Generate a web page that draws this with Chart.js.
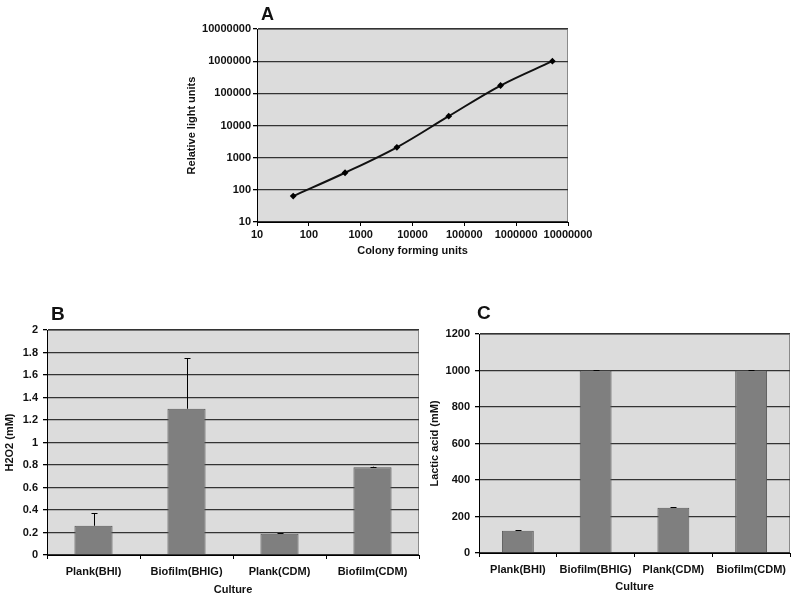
<!DOCTYPE html>
<html>
<head>
<meta charset="utf-8">
<script src="https://cdn.jsdelivr.net/npm/chart.js@4.4.0/dist/chart.umd.min.js"></script>
<style>
body { margin: 0; background: #fff; width: 800px; height: 600px; position: relative; overflow: hidden; font-family: 'Liberation Sans', Arial, sans-serif; }
canvas { position: absolute; }
.panel { position: absolute; font-weight: bold; line-height: 1; color: #111; }
</style>
</head>
<body>
<canvas id="chartA" width="420" height="270" style="left:180px;top:0"></canvas>
<canvas id="chartB" width="425" height="300" style="left:0;top:300px"></canvas>
<canvas id="chartC" width="380" height="300" style="left:420px;top:300px"></canvas>
<div class="panel" style="left:261px;top:5px;font-size:18px">A</div>
<div class="panel" style="left:51px;top:304px;font-size:19px">B</div>
<div class="panel" style="left:477px;top:303px;font-size:19px">C</div>
<script>
// panel A: luminescence vs colony forming units
var cfu = [50, 500, 5000, 50000, 500000, 5000000];
var rlu = [64, 340, 2100, 19500, 175000, 1000000];
var decades = [10, 100, 1000, 10000, 100000, 1000000, 10000000];
var decadeLabels = ['10', '100', '1000', '10000', '100000', '1000000', '10000000'];

// panels B and C
var cultures = ['Plank(BHI)', 'Biofilm(BHIG)', 'Plank(CDM)', 'Biofilm(CDM)'];
var h2o2 = [0.26, 1.30, 0.19, 0.78];
var h2o2Err = [0.11, 0.45, 0.005, 0.005];
var lactic = [122, 1000, 248, 1000];
var lacticErr = [3, 2, 2, 2];

var tickFont = { family: "'Liberation Sans', Arial, sans-serif", size: 11, weight: 'bold' };
var inkColor = '#111';

// grey plot background with a thin grey frame
var plotBg = {
    id: 'plotBg',
    beforeDraw: function (chart) {
        var a = chart.chartArea, ctx = chart.ctx;
        ctx.save();
        ctx.fillStyle = '#dcdcdc';
        ctx.fillRect(a.left, a.top, a.right - a.left, a.bottom - a.top);
        ctx.strokeStyle = '#8a8a8a';
        ctx.lineWidth = 1;
        ctx.strokeRect(a.left + 0.5, a.top + 0.5, a.right - a.left - 1, a.bottom - a.top);
        ctx.restore();
    }
};

// plus-only error bars, like excel
var errorBars = {
    id: 'errorBars',
    afterDatasetsDraw: function (chart, args, opts) {
        var meta = chart.getDatasetMeta(0);
        var values = chart.data.datasets[0].data;
        var yScale = chart.scales.y, ctx = chart.ctx;
        ctx.save();
        ctx.strokeStyle = '#000';
        ctx.lineWidth = 1;
        meta.data.forEach(function (bar, i) {
            var y0 = yScale.getPixelForValue(values[i]);
            var y1 = yScale.getPixelForValue(values[i] + opts.errors[i]);
            var x = Math.round(bar.x) + 0.5;
            ctx.beginPath();
            ctx.moveTo(x, y0);
            ctx.lineTo(x, y1);
            ctx.moveTo(x - 3, Math.round(y1) + 0.5);
            ctx.lineTo(x + 3, Math.round(y1) + 0.5);
            ctx.stroke();
        });
        ctx.restore();
    }
};

function fixWidth(w) { return function (s) { s.width = w; }; }
function fixHeight(h) { return function (s) { s.height = h; }; }

new Chart(document.getElementById('chartA'), {
    type: 'line',
    data: {
        datasets: [{
            data: cfu.map(function (x, i) { return { x: x, y: rlu[i] }; }),
            borderColor: '#111',
            borderWidth: 2,
            tension: 0.35,
            pointStyle: 'rectRot',
            pointRadius: 2,
            pointBackgroundColor: '#000',
            pointBorderColor: '#000'
        }]
    },
    options: {
        responsive: false,
        animation: false,
        layout: { padding: { left: 0, right: 32, top: 29, bottom: 0 } },
        plugins: { legend: { display: false }, tooltip: { enabled: false } },
        scales: {
            x: {
                type: 'logarithmic', min: 10, max: 10000000,
                afterBuildTicks: function (s) { s.ticks = decades.map(function (v) { return { value: v }; }); },
                afterFit: fixHeight(48),
                grid: { drawOnChartArea: false, tickLength: 4, tickColor: '#000' },
                border: { color: '#000', width: 1 },
                ticks: { font: tickFont, color: inkColor, padding: 2, maxRotation: 0, autoSkip: false,
                    callback: function (v, i) { return decadeLabels[i]; } },
                title: { display: true, text: 'Colony forming units', font: tickFont, color: inkColor, padding: { top: 0, bottom: 12 } }
            },
            y: {
                type: 'logarithmic', min: 10, max: 10000000,
                afterBuildTicks: function (s) { s.ticks = decades.map(function (v) { return { value: v }; }); },
                afterFit: fixWidth(77),
                grid: { color: '#333', lineWidth: 1.3, tickLength: 4, tickColor: '#000' },
                border: { color: '#000', width: 1 },
                ticks: { font: tickFont, color: inkColor, padding: 2, autoSkip: false,
                    callback: function (v, i) { return decadeLabels[i]; } },
                title: { display: true, text: 'Relative light units', font: tickFont, color: inkColor, padding: { top: 5 } }
            }
        }
    },
    plugins: [plotBg]
});

function barChart(id, values, errors, yMax, step, yTitle, yWidth, pad, axisH, yTitlePad, xTitlePad, labelFmt) {
    return new Chart(document.getElementById(id), {
        type: 'bar',
        data: {
            labels: cultures,
            datasets: [{
                data: values,
                backgroundColor: '#7f7f7f',
                borderColor: '#5a5a5a',
                borderWidth: 1,
                categoryPercentage: 1,
                barPercentage: 0.41
            }]
        },
        options: {
            responsive: false,
            animation: false,
            layout: { padding: pad },
            plugins: { legend: { display: false }, tooltip: { enabled: false }, errorBars: { errors: errors } },
            scales: {
                x: {
                    afterFit: fixHeight(axisH),
                    grid: { drawOnChartArea: false, offset: true, tickLength: 4, tickColor: '#000' },
                    border: { color: '#000', width: 1 },
                    ticks: { font: tickFont, color: inkColor, padding: 6, maxRotation: 0, autoSkip: false },
                    title: { display: true, text: 'Culture', font: tickFont, color: inkColor, padding: { top: 0, bottom: xTitlePad } }
                },
                y: {
                    min: 0, max: yMax,
                    afterFit: fixWidth(yWidth),
                    grid: { color: '#333', lineWidth: 1.3, tickLength: 4, tickColor: '#000' },
                    border: { color: '#000', width: 1 },
                    ticks: { stepSize: step, font: tickFont, color: inkColor, padding: 5, callback: labelFmt },
                    title: { display: true, text: yTitle, font: tickFont, color: inkColor, padding: { top: yTitlePad } }
                }
            }
        },
        plugins: [plotBg, errorBars]
    });
}

barChart('chartB', h2o2, h2o2Err, 2, 0.2, 'H2O2 (mM)', 47,
    { left: 0, right: 6, top: 30, bottom: 0 }, 45, 3.5, 3.5,
    function (v) { return String(Math.round(v * 10) / 10); });

barChart('chartC', lactic, lacticErr, 1200, 200, 'Lactic acid (mM)', 59,
    { left: 0, right: 10, top: 34, bottom: 0 }, 47, 8.5, 6.5,
    function (v) { return String(v); });
</script>
</body>
</html>
